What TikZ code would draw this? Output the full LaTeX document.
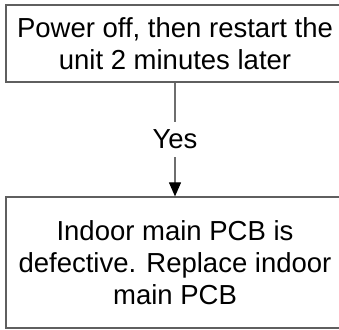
\documentclass[tikz,border=0pt]{standalone}
\usepackage{fontspec}
\setmainfont{Liberation Sans}
\usepackage{xcolor}
\usepackage{tikz}
\usetikzlibrary{arrows.meta}
\definecolor{framegray}{RGB}{95,95,95}
\definecolor{linkgray}{RGB}{110,110,110}

\begin{document}
\begin{tikzpicture}[
  x=1pt, y=-1pt,
  font=\fontsize{27.5}{32}\selectfont,
  stepbox/.style={rectangle, draw=framegray, line width=1.2pt, fill=white,
    minimum width=338pt, align=center, inner sep=0pt},
  link/.style={line width=1.1pt, draw=linkgray,
    -{Triangle[length=14pt, width=12pt, color=black]}}
]
  \useasboundingbox (0,0) rectangle (339,329);
  \node[stepbox, minimum height=77pt] (restart) at (175,43.5)
    {Power off, then restart the\\unit 2 minutes later};
  \node[stepbox, minimum height=131pt] (pcb) at (175,262.5)
    {Indoor main PCB is\\defective. Replace indoor\\main PCB};
  \draw[link] (restart) -- node[fill=white, inner xsep=2pt, inner ysep=8pt] (yes) {Yes} (pcb);
\end{tikzpicture}
\end{document}
